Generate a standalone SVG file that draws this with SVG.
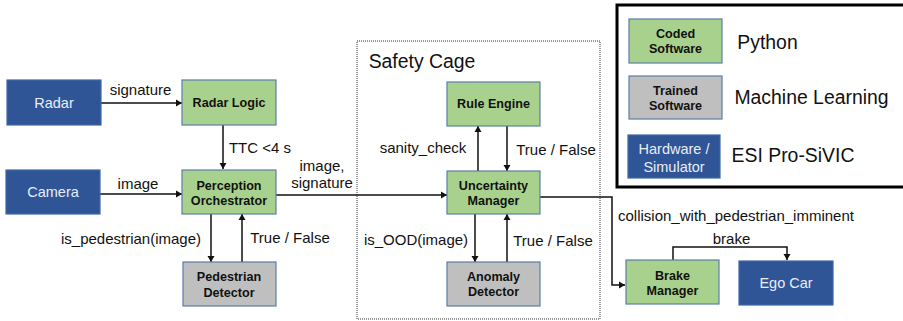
<svg xmlns="http://www.w3.org/2000/svg" width="903" height="321" viewBox="0 0 903 321">
<style>
text{font-family:"Liberation Sans",Arial,sans-serif;fill:#111;text-anchor:middle}
.n{stroke-width:1.2}
.g{fill:#a9d18e;stroke:#5b7fa6}
.s{fill:#bfbfbf;stroke:#5b7fa6}
.b{fill:#2f5597;stroke:#3f68a8}
.t{font-size:12.6px;font-weight:bold}
.w{font-size:14.5px;fill:#e8edf5}
.l{font-size:15px}
.k{font-size:19.400px}
#connectors path{fill:none;stroke:#111;stroke-width:1.5;marker-end:url(#a)}
</style>
<defs><marker id="a" markerUnits="userSpaceOnUse" markerWidth="8" markerHeight="8" refX="7" refY="4" orient="auto"><path d="M1 0.5L7 4L1 7.5Z" fill="#111"/></marker></defs>
<rect width="903" height="321" fill="#fff"/>
<rect id="safety-cage" x="357" y="41" width="243" height="278" fill="none" stroke="#333" stroke-width="1" stroke-dasharray="1 1"/>
<text class="k" x="422" y="68">Safety Cage</text>
<g id="legend">
<rect x="617" y="5" width="290" height="182" fill="none" stroke="#000" stroke-width="3"/>
<rect class="n g" x="629" y="19" width="93" height="44"/>
<text class="t" x="675.500" y="38">Coded</text><text class="t" x="675.500" y="53">Software</text>
<rect class="n s" x="629" y="76" width="93" height="43"/>
<text class="t" x="675.500" y="95">Trained</text><text class="t" x="675.500" y="110">Software</text>
<rect class="n b" x="628" y="135" width="92" height="43"/>
<text class="w" x="674" y="154">Hardware /</text><text class="w" x="674" y="172">Simulator</text>
<text class="k" x="767.500" y="49">Python</text>
<text class="k" x="811.500" y="104">Machine Learning</text>
<text class="k" x="793" y="162">ESI Pro-SiVIC</text>
</g>
<g id="connectors">
<path d="M101 103H182"/>
<path d="M100 194H182"/>
<path d="M223 125V169"/>
<path d="M211 214V262"/>
<path d="M242 262V214"/>
<path d="M276 195H447"/>
<path d="M478 171V126"/>
<path d="M507 126V171"/>
<path d="M475 214V262"/>
<path d="M507 262V214"/>
<path d="M540 197H612V285H625"/>
<path d="M673 260V247H787V260"/>
</g>
<g id="radar"><rect class="n b" x="7" y="80" width="94" height="45"/><text class="w" x="54" y="108">Radar</text></g>
<g id="camera"><rect class="n b" x="6" y="170" width="94" height="44"/><text class="w" x="53" y="197">Camera</text></g>
<g id="radar-logic"><rect class="n g" x="182" y="80" width="94" height="45"/><text class="t" x="229" y="107">Radar Logic</text></g>
<g id="perception-orchestrator"><rect class="n g" x="182" y="170" width="94" height="44"/><text class="t" x="229" y="190">Perception</text><text class="t" x="229" y="205">Orchestrator</text></g>
<g id="pedestrian-detector"><rect class="n s" x="183" y="262" width="93" height="44"/><text class="t" x="229" y="281">Pedestrian</text><text class="t" x="229" y="297">Detector</text></g>
<g id="rule-engine"><rect class="n g" x="447" y="82" width="93" height="44"/><text class="t" x="493.500" y="108">Rule Engine</text></g>
<g id="uncertainty-manager"><rect class="n g" x="447" y="171" width="93" height="43"/><text class="t" x="493.500" y="190">Uncertainty</text><text class="t" x="493.500" y="205">Manager</text></g>
<g id="anomaly-detector"><rect class="n s" x="447" y="262" width="93" height="44"/><text class="t" x="493.500" y="281">Anomaly</text><text class="t" x="493.500" y="296">Detector</text></g>
<g id="brake-manager"><rect class="n g" x="626" y="260" width="93" height="44"/><text class="t" x="672.500" y="280">Brake</text><text class="t" x="672.500" y="295">Manager</text></g>
<g id="ego-car"><rect class="n b" x="739" y="261" width="94" height="44"/><text class="w" x="786" y="288">Ego Car</text></g>
<g id="labels">
<text class="l" x="140.500" y="95">signature</text>
<text class="l" x="138" y="189">image</text>
<text class="l" x="260" y="153">TTC &lt;4 s</text>
<text class="l" x="322" y="171">image,</text>
<text class="l" x="322" y="188">signature</text>
<text class="l" x="131" y="244">is_pedestrian(image)</text>
<text class="l" x="290" y="243">True / False</text>
<text class="l" x="423" y="153">sanity_check</text>
<text class="l" x="556" y="155">True / False</text>
<text class="l" x="416" y="245">is_OOD(image)</text>
<text class="l" x="553" y="246">True / False</text>
<text class="l" x="736" y="221">collision_with_pedestrian_imminent</text>
<text class="l" x="731.500" y="244">brake</text>
</g>
</svg>
